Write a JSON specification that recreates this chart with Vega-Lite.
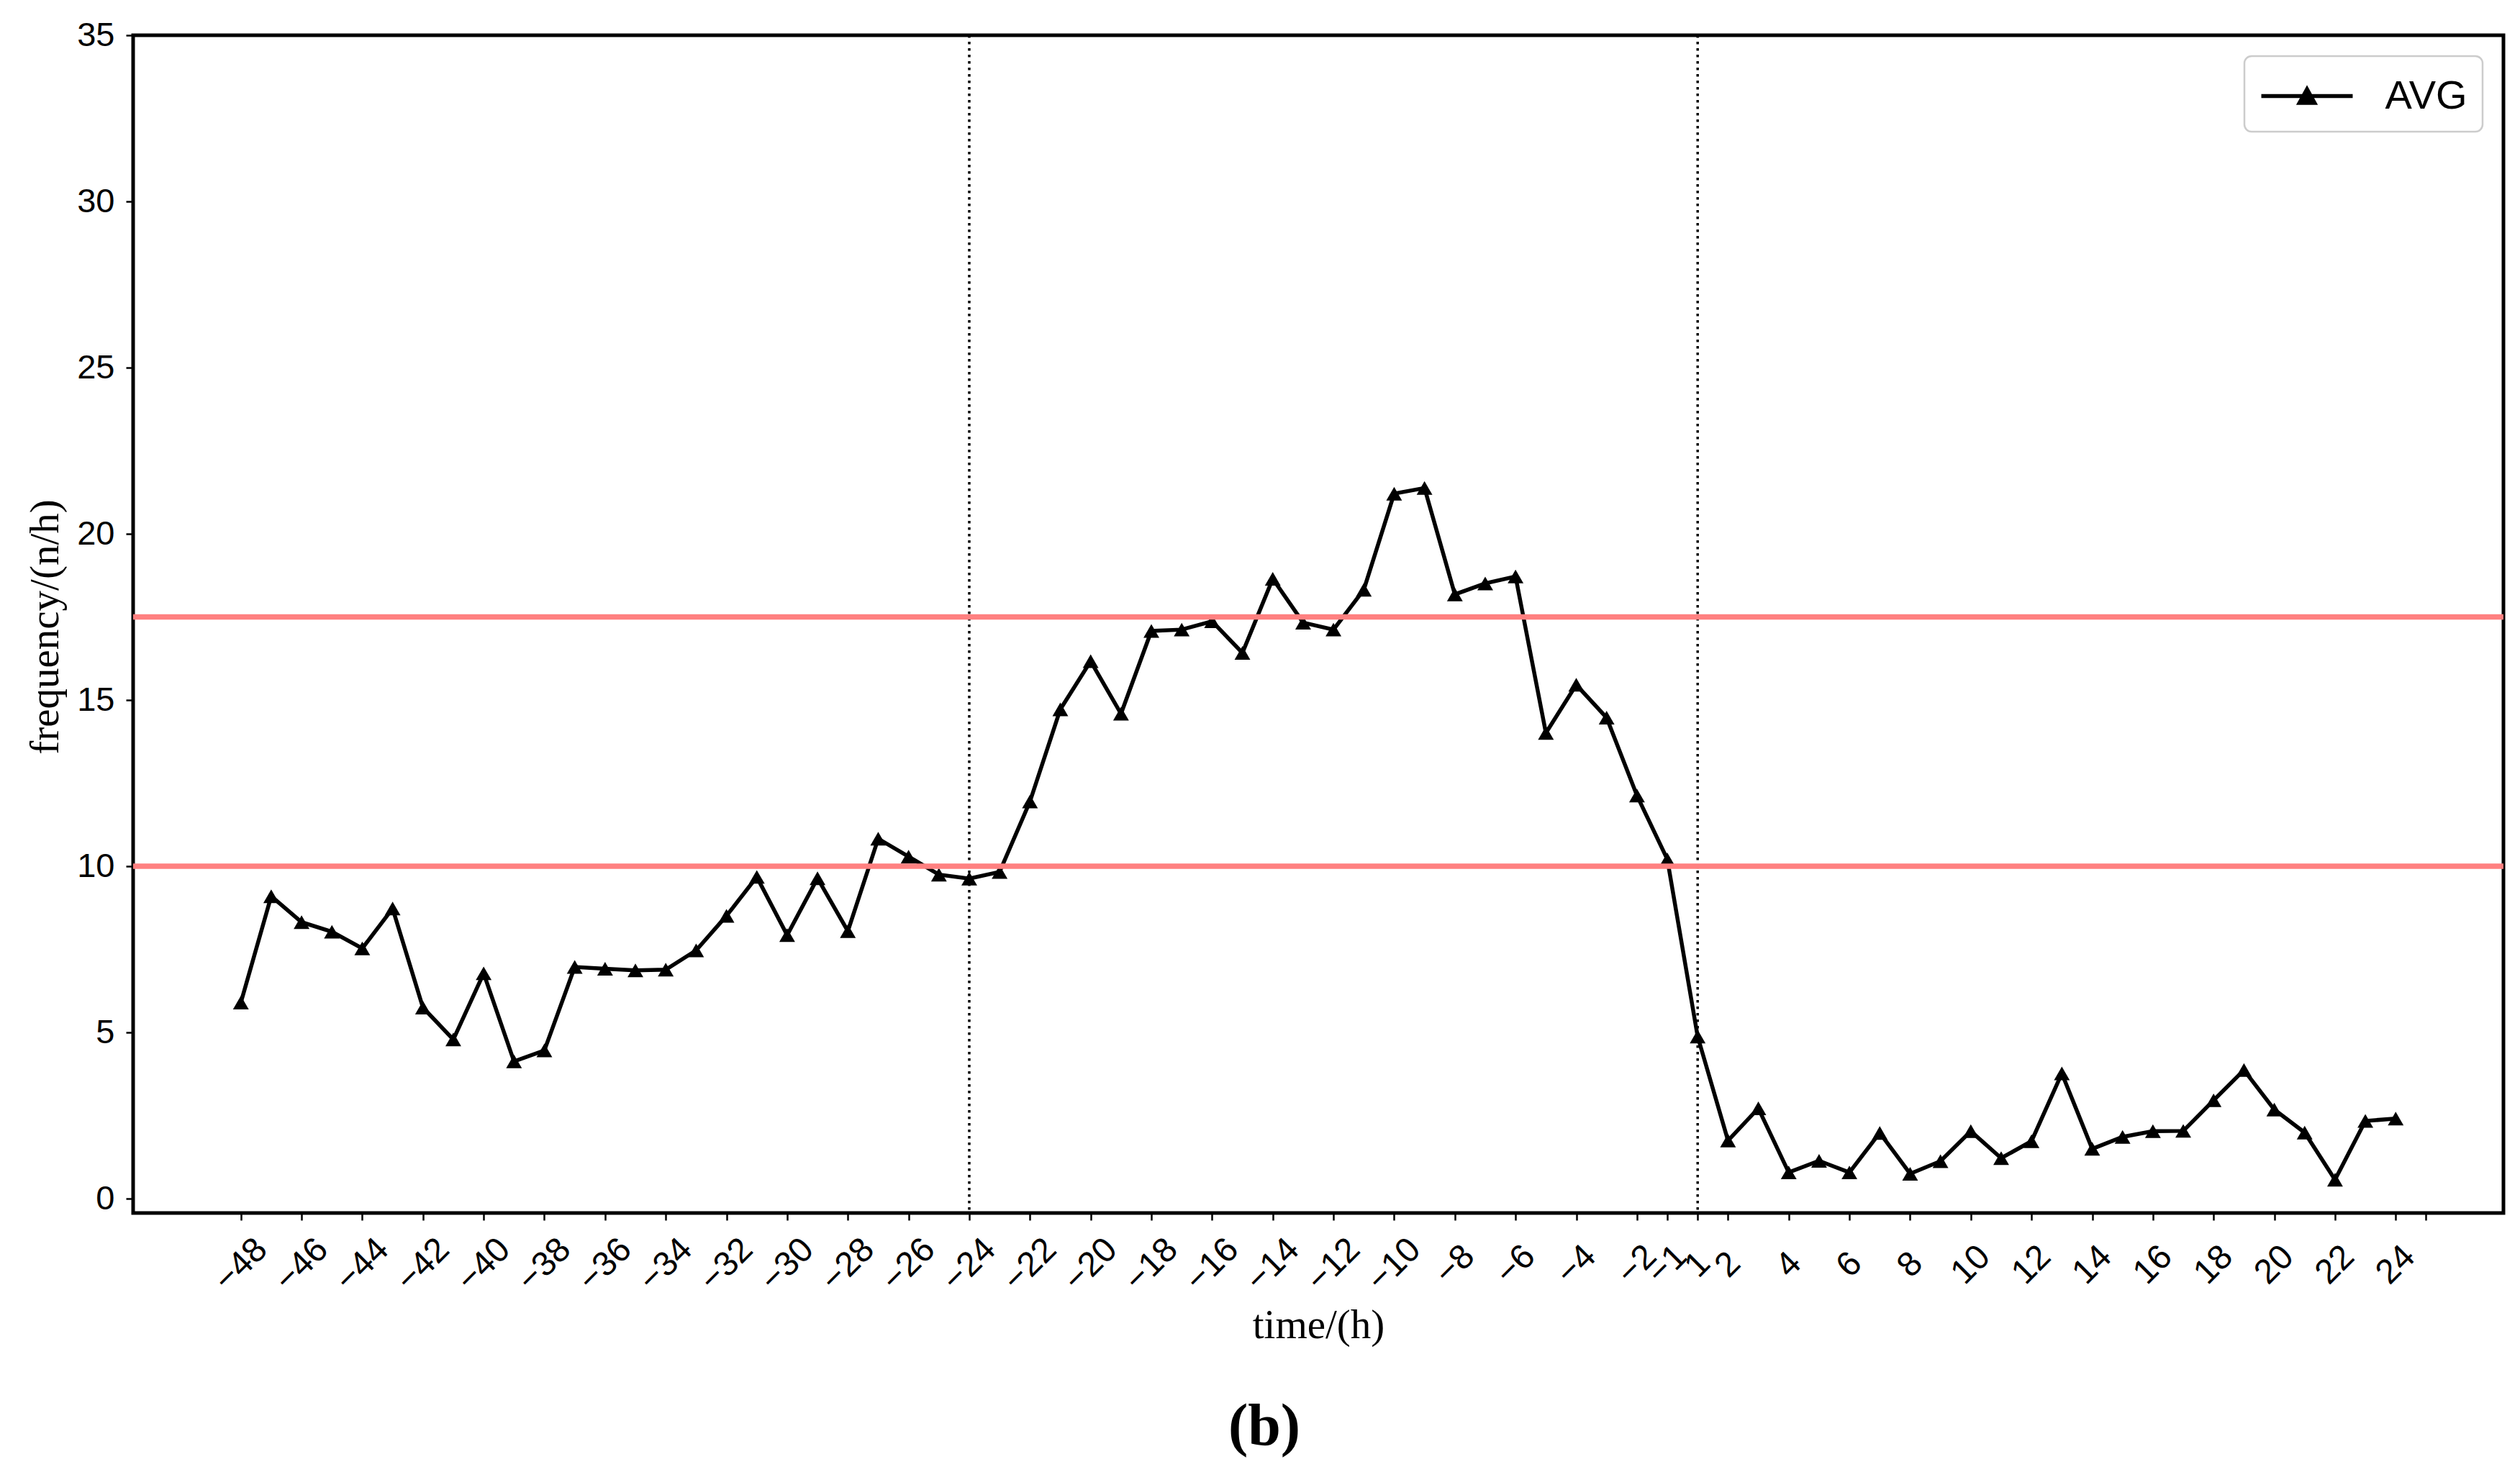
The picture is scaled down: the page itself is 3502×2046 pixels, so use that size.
{
  "$schema": "https://vega.github.io/schema/vega-lite/v6.json",
  "autosize": "none",
  "width": 3294,
  "height": 1637,
  "padding": {"left": 185, "top": 49, "right": 23, "bottom": 360},
  "background": "white",
  "config": {
    "view": {"stroke": "black", "strokeWidth": 5},
    "axis": {"grid": false, "domain": false, "tickColor": "black", "tickWidth": 2.5, "tickSize": 10, "labelColor": "black", "titleColor": "black"}
  },
  "title": {
    "text": "(b)",
    "orient": "bottom",
    "anchor": "middle",
    "font": "Liberation Serif",
    "fontSize": 82,
    "fontWeight": "bold",
    "color": "black",
    "dx": -75,
    "offset": 73
  },
  "datasets": {
    "avg": [
      {"idx": 0, "time": -48, "value": 5.90, "series": "AVG"},
      {"idx": 1, "time": -47, "value": 9.10, "series": "AVG"},
      {"idx": 2, "time": -46, "value": 8.32, "series": "AVG"},
      {"idx": 3, "time": -45, "value": 8.03, "series": "AVG"},
      {"idx": 4, "time": -44, "value": 7.53, "series": "AVG"},
      {"idx": 5, "time": -43, "value": 8.73, "series": "AVG"},
      {"idx": 6, "time": -42, "value": 5.75, "series": "AVG"},
      {"idx": 7, "time": -41, "value": 4.79, "series": "AVG"},
      {"idx": 8, "time": -40, "value": 6.78, "series": "AVG"},
      {"idx": 9, "time": -39, "value": 4.13, "series": "AVG"},
      {"idx": 10, "time": -38, "value": 4.46, "series": "AVG"},
      {"idx": 11, "time": -37, "value": 6.97, "series": "AVG"},
      {"idx": 12, "time": -36, "value": 6.92, "series": "AVG"},
      {"idx": 13, "time": -35, "value": 6.87, "series": "AVG"},
      {"idx": 14, "time": -34, "value": 6.89, "series": "AVG"},
      {"idx": 15, "time": -33, "value": 7.47, "series": "AVG"},
      {"idx": 16, "time": -32, "value": 8.51, "series": "AVG"},
      {"idx": 17, "time": -31, "value": 9.68, "series": "AVG"},
      {"idx": 18, "time": -30, "value": 7.93, "series": "AVG"},
      {"idx": 19, "time": -29, "value": 9.64, "series": "AVG"},
      {"idx": 20, "time": -28, "value": 8.05, "series": "AVG"},
      {"idx": 21, "time": -27, "value": 10.83, "series": "AVG"},
      {"idx": 22, "time": -26, "value": 10.29, "series": "AVG"},
      {"idx": 23, "time": -25, "value": 9.75, "series": "AVG"},
      {"idx": 24, "time": -24, "value": 9.63, "series": "AVG"},
      {"idx": 25, "time": -23, "value": 9.83, "series": "AVG"},
      {"idx": 26, "time": -22, "value": 11.95, "series": "AVG"},
      {"idx": 27, "time": -21, "value": 14.72, "series": "AVG"},
      {"idx": 28, "time": -20, "value": 16.17, "series": "AVG"},
      {"idx": 29, "time": -19, "value": 14.59, "series": "AVG"},
      {"idx": 30, "time": -18, "value": 17.08, "series": "AVG"},
      {"idx": 31, "time": -17, "value": 17.12, "series": "AVG"},
      {"idx": 32, "time": -16, "value": 17.37, "series": "AVG"},
      {"idx": 33, "time": -15, "value": 16.42, "series": "AVG"},
      {"idx": 34, "time": -14, "value": 18.65, "series": "AVG"},
      {"idx": 35, "time": -13, "value": 17.33, "series": "AVG"},
      {"idx": 36, "time": -12, "value": 17.12, "series": "AVG"},
      {"idx": 37, "time": -11, "value": 18.32, "series": "AVG"},
      {"idx": 38, "time": -10, "value": 21.21, "series": "AVG"},
      {"idx": 39, "time": -9, "value": 21.38, "series": "AVG"},
      {"idx": 40, "time": -8, "value": 18.18, "series": "AVG"},
      {"idx": 41, "time": -7, "value": 18.51, "series": "AVG"},
      {"idx": 42, "time": -6, "value": 18.72, "series": "AVG"},
      {"idx": 43, "time": -5, "value": 14.01, "series": "AVG"},
      {"idx": 44, "time": -4, "value": 15.46, "series": "AVG"},
      {"idx": 45, "time": -3, "value": 14.47, "series": "AVG"},
      {"idx": 46, "time": -2, "value": 12.13, "series": "AVG"},
      {"idx": 47, "time": -1, "value": 10.21, "series": "AVG"},
      {"idx": 48, "time": 1, "value": 4.88, "series": "AVG"},
      {"idx": 49, "time": 2, "value": 1.75, "series": "AVG"},
      {"idx": 50, "time": 3, "value": 2.72, "series": "AVG"},
      {"idx": 51, "time": 4, "value": 0.79, "series": "AVG"},
      {"idx": 52, "time": 5, "value": 1.14, "series": "AVG"},
      {"idx": 53, "time": 6, "value": 0.79, "series": "AVG"},
      {"idx": 54, "time": 7, "value": 1.98, "series": "AVG"},
      {"idx": 55, "time": 8, "value": 0.75, "series": "AVG"},
      {"idx": 56, "time": 9, "value": 1.13, "series": "AVG"},
      {"idx": 57, "time": 10, "value": 2.03, "series": "AVG"},
      {"idx": 58, "time": 11, "value": 1.22, "series": "AVG"},
      {"idx": 59, "time": 12, "value": 1.73, "series": "AVG"},
      {"idx": 60, "time": 13, "value": 3.77, "series": "AVG"},
      {"idx": 61, "time": 14, "value": 1.50, "series": "AVG"},
      {"idx": 62, "time": 15, "value": 1.86, "series": "AVG"},
      {"idx": 63, "time": 16, "value": 2.03, "series": "AVG"},
      {"idx": 64, "time": 17, "value": 2.04, "series": "AVG"},
      {"idx": 65, "time": 18, "value": 2.96, "series": "AVG"},
      {"idx": 66, "time": 19, "value": 3.87, "series": "AVG"},
      {"idx": 67, "time": 20, "value": 2.68, "series": "AVG"},
      {"idx": 68, "time": 21, "value": 1.99, "series": "AVG"},
      {"idx": 69, "time": 22, "value": 0.57, "series": "AVG"},
      {"idx": 70, "time": 23, "value": 2.34, "series": "AVG"},
      {"idx": 71, "time": 24, "value": 2.41, "series": "AVG"}
    ],
    "thresholds": [{"level": 10}, {"level": 17.5}],
    "markers": [{"idx": 24}, {"idx": 48}]
  },
  "layer": [
    {
      "data": {"name": "markers"},
      "mark": {"type": "rule", "color": "black", "strokeWidth": 3.5, "strokeDash": [3.5, 5.5]},
      "encoding": {
        "x": {"field": "idx", "type": "quantitative", "scale": {"domain": [-3.55, 74.55], "nice": false, "zero": false}}
      }
    },
    {
      "data": {"name": "avg"},
      "mark": {"type": "line", "strokeWidth": 5.5},
      "encoding": {
        "x": {
          "field": "idx",
          "type": "quantitative",
          "scale": {"domain": [-3.55, 74.55], "nice": false, "zero": false},
          "axis": {
            "title": "time/(h)",
            "titleFont": "Liberation Serif",
            "titleFontSize": 57,
            "titleFontWeight": "normal",
            "titleX": 1647,
            "titleY": 156,
            "titleBaseline": "middle",
            "titleAlign": "center",
            "values": [0,2,4,6,8,10,12,14,16,18,20,22,24,26,28,30,32,34,36,38,40,42,44,46,47,48,49,51,53,55,57,59,61,63,65,67,69,71,72],
            "labelExpr": "datum.value < 48 ? '\u2212' + (48 - datum.value) : (datum.value < 72 ? '' + (datum.value - 47) : '')",
            "labelFont": "Liberation Sans",
            "labelFontSize": 48,
            "labelAngle": -45,
            "labelAlign": "center",
            "labelBaseline": "middle",
            "labelPadding": 62,
            "labelOverlap": false,
            "labelBound": false
          }
        },
        "y": {
          "field": "value",
          "type": "quantitative",
          "scale": {"domain": [-0.43, 35], "nice": false, "zero": false},
          "axis": {
            "title": "frequency/(n/h)",
            "titleFont": "Liberation Serif",
            "titleFontSize": 57,
            "titleFontWeight": "normal",
            "titleX": -122,
            "titleY": 822,
            "titleAngle": -90,
            "titleBaseline": "middle",
            "titleAlign": "center",
            "values": [0, 5, 10, 15, 20, 25, 30, 35],
            "labelFont": "Liberation Sans",
            "labelFontSize": 47,
            "labelPadding": 16,
            "labelBaseline": "middle"
          }
        },
        "color": {
          "field": "series",
          "type": "nominal",
          "scale": {"range": ["black"]},
          "legend": {
            "title": null,
            "orient": "top-right",
            "offset": 29,
            "padding": 21,
            "strokeColor": "#cccccc",
            "cornerRadius": 10,
            "fillColor": "white",
            "labelFont": "Liberation Sans",
            "labelFontSize": 56,
            "labelColor": "black",
            "labelOffset": 74,
            "labelBaseline": "middle",
            "symbolType": "M-2,0H2M0,-0.3L-0.33,0.3L0.33,0.3Z",
            "symbolSize": 4032,
            "symbolStrokeWidth": 5.5,
            "symbolOffset": 31.5,
            "symbolFillColor": "black",
            "symbolStrokeColor": "black",
            "encode": {
              "symbols": {"update": {"fill": {"value": "black"}, "stroke": {"value": "black"}, "strokeWidth": {"value": 5.5}}},
              "legend": {"update": {"strokeWidth": {"value": 2.5}}}
            }
          }
        }
      }
    },
    {
      "data": {"name": "avg"},
      "mark": {"type": "point", "shape": "triangle-up", "filled": true, "size": 480, "color": "black", "opacity": 1},
      "encoding": {
        "x": {"field": "idx", "type": "quantitative"},
        "y": {"field": "value", "type": "quantitative"}
      }
    },
    {
      "data": {"name": "thresholds"},
      "mark": {"type": "rule", "color": "#ff8080", "strokeWidth": 7.5},
      "encoding": {
        "y": {"field": "level", "type": "quantitative"}
      }
    }
  ]
}
